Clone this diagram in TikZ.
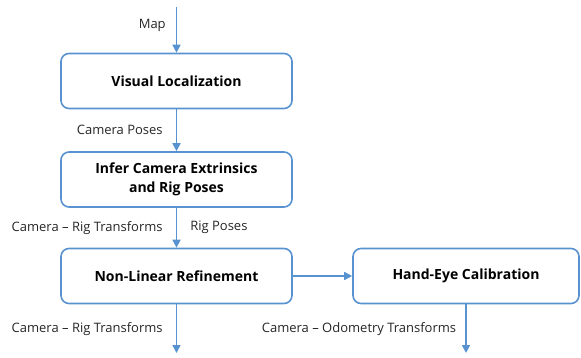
\documentclass[tikz,border=0pt]{standalone}
\usepackage{fontspec}
\setmainfont{Open Sans}
\usetikzlibrary{arrows.meta}
\definecolor{flowblue}{RGB}{88,146,208}
\tikzset{
	stage/.style={draw=flowblue,line width=1.6pt,rounded corners=8pt,minimum height=55pt,
		align=center,font=\fontsize{14}{18.5}\selectfont\bfseries,inner sep=2pt},
	flow/.style={draw=flowblue,line width=1.6pt,-{Triangle[length=8pt,width=8pt]}},
	lbl/.style={font=\fontsize{13}{15}\selectfont,text=black!85,inner sep=0pt}
}
\begin{document}
\begin{tikzpicture}[x=1pt,y=-1pt]
	\useasboundingbox (0,0) rectangle (581,358);
	%Stages
	\node[stage,minimum width=231pt] (vl) at (176.5,81) {Visual Localization};
	\node[stage,minimum width=231pt] (ice) at (176.5,179.5) {Infer Camera Extrinsics\\and Rig Poses};
	\node[stage,minimum width=231pt] (nlr) at (176.5,276) {Non-Linear Refinement};
	\node[stage,minimum width=226pt] (hec) at (466,276) {Hand-Eye Calibration};
	%Loose ends
	\coordinate (mapin) at (176.5,7);
	\coordinate (rigout) at (176.5,353);
	\coordinate (odout) at (466,353);
	%Connectors
	\draw[flow] (mapin) -- (vl) node[lbl,pos=0.4,left=10pt] {Map};
	\draw[flow] (vl) -- (ice) node[lbl,pos=0.5,left=13pt] {Camera Poses};
	\draw[flow] (ice) -- (nlr) node[lbl,pos=0.5,left=13pt] {Camera -- Rig Transforms}
		node[lbl,pos=0.5,right=13pt] {Rig Poses};
	\draw[flow] (nlr) -- (hec);
	\draw[flow] (nlr) -- (rigout) node[lbl,pos=0.5,left=13pt] {Camera -- Rig Transforms};
	\draw[flow] (hec) -- (odout) node[lbl,pos=0.5,left=9pt] {Camera -- Odometry Transforms};
\end{tikzpicture}
\end{document}
